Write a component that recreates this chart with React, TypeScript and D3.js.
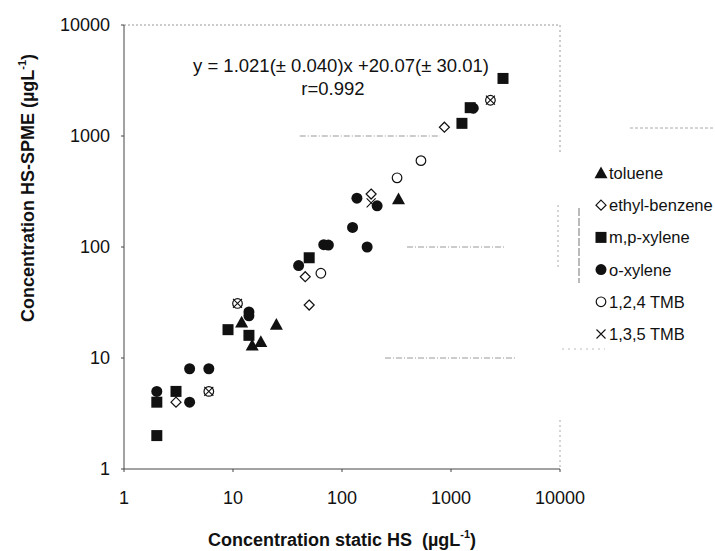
import React from "react";
import * as d3 from "d3";

const xTicks = [1, 10, 100, 1000, 10000];
const yTicks = [1, 10, 100, 1000, 10000];

const tolueneX = [12, 25, 15, 18, 330];
const tolueneY = [21, 20, 13, 14, 270];
const ethylX = [3, 46, 50, 185, 870];
const ethylY = [4, 54, 30, 300, 1200];
const mpX = [2, 2, 3, 9, 14, 50, 1260, 1500, 3000];
const mpY = [2, 4, 5, 18, 16, 80, 1300, 1800, 3300];
const oxX = [2, 4, 4, 6, 14, 14, 40, 68, 75, 125, 137, 170, 210, 1600];
const oxY = [5, 4, 8, 8, 26, 24, 68, 105, 104, 150, 275, 100, 235, 1780];
const tmb124X = [6, 11, 64, 320, 530, 2300];
const tmb124Y = [5, 31, 58, 420, 600, 2100];
const tmb135X = [6, 11, 185, 2300];
const tmb135Y = [5, 31, 250, 2100];

const legendLabels = ["toluene", "ethyl-benzene", "m,p-xylene", "o-xylene", "1,2,4 TMB", "1,3,5 TMB"];
const legendKinds = ["tri", "dia", "sq", "dot", "circ", "x"];

// partial gridline fragments (value ranges) as seen on the scanned chart
const gridY = [1000, 100, 10];
const gridFrom = [41, 395, 248];
const gridTo = [795, 3126, 3865];

const FONT = "'Liberation Sans', Arial, Helvetica, sans-serif";

function Marker({ kind, cx, cy }: { kind: string; cx: number; cy: number }) {
  const ink = "#111";
  if (kind === "tri") {
    const s = 6.5;
    return <path d={`M${cx},${cy - s} L${cx + s},${cy + s * 0.8} L${cx - s},${cy + s * 0.8} Z`} fill={ink} />;
  }
  if (kind === "dia") {
    const s = 5;
    return <path d={`M${cx},${cy - s} L${cx + s},${cy} L${cx},${cy + s} L${cx - s},${cy} Z`} fill="#fff" stroke={ink} strokeWidth={1.2} />;
  }
  if (kind === "sq") {
    return <rect x={cx - 5.5} y={cy - 5.5} width={11} height={11} fill={ink} />;
  }
  if (kind === "dot") {
    return <circle cx={cx} cy={cy} r={5.5} fill={ink} />;
  }
  if (kind === "circ") {
    return <circle cx={cx} cy={cy} r={4.8} fill="#fff" stroke={ink} strokeWidth={1.2} />;
  }
  const s = 4.5;
  return (
    <path d={`M${cx - s},${cy - s} L${cx + s},${cy + s} M${cx - s},${cy + s} L${cx + s},${cy - s}`} stroke={ink} strokeWidth={1.1} fill="none" />
  );
}

export default function App() {
  const W = 715;
  const H = 551;
  const x = d3.scaleLog().domain([1, 10000]).range([124, 560]);
  const y = d3.scaleLog().domain([1, 10000]).range([469, 25]);

  const series = [
    { kind: "dot", xs: oxX, ys: oxY },
    { kind: "circ", xs: tmb124X, ys: tmb124Y },
    { kind: "x", xs: tmb135X, ys: tmb135Y },
    { kind: "tri", xs: tolueneX, ys: tolueneY },
    { kind: "dia", xs: ethylX, ys: ethylY },
    { kind: "sq", xs: mpX, ys: mpY },
  ];

  const [x0, x1] = x.range();
  const [y0, y1] = y.range();

  return (
    <svg width={W} height={H} style={{ position: "absolute", left: 0, top: 0, background: "#fff" }} fontFamily={FONT}>
      <rect width={W} height={H} fill="#fff" />
      {/* frame (dotted top/right) */}
      <line x1={x0} x2={x1} y1={y1} y2={y1} stroke="#999" strokeWidth={1} strokeDasharray="2 2" />
      <line x1={x1} x2={x1} y1={y1} y2={155} stroke="#999" strokeWidth={1} strokeDasharray="2 3" />
      <line x1={x1} x2={x1} y1={420} y2={y0} stroke="#aaa" strokeWidth={1} strokeDasharray="2 3" />
      {/* gridline fragments */}
      {gridY.map((g, i) => (
        <line key={g} x1={x(gridFrom[i])} x2={x(gridTo[i])} y1={y(g)} y2={y(g)} stroke="#999" strokeWidth={1} strokeDasharray="6 2 1 2" />
      ))}
      {/* axes */}
      <line x1={x0} x2={x0} y1={y1} y2={y0} stroke="#444" strokeWidth={1} />
      <line x1={x0} x2={x1} y1={y0} y2={y0} stroke="#444" strokeWidth={1} />
      {xTicks.map((t) => (
        <g key={"x" + t}>
          <line x1={x(t)} x2={x(t)} y1={y0} y2={y0 + 3} stroke="#444" />
          <text x={x(t)} y={y0 + 35} textAnchor="middle" fontSize={18} fill="#111">
            {t}
          </text>
        </g>
      ))}
      {yTicks.map((t) => (
        <g key={"y" + t}>
          <line x1={x0 - 3} x2={x0} y1={y(t)} y2={y(t)} stroke="#444" />
          <text x={110} y={y(t) + 6} textAnchor="end" fontSize={18} fill="#111">
            {t}
          </text>
        </g>
      ))}
      {/* axis titles */}
      <text x={342} y={546} textAnchor="middle" fontSize={18} fontWeight="bold" fill="#111">
        Concentration static HS{"\u00a0\u00a0"}(µgL
        <tspan fontSize={11} dy={-8}>-1</tspan>
        <tspan dy={8}>)</tspan>
      </text>
      <text transform={`translate(34,188) rotate(-90)`} textAnchor="middle" fontSize={18} fontWeight="bold" fill="#111">
        Concentration HS-SPME (µgL
        <tspan fontSize={11} dy={-8}>-1</tspan>
        <tspan dy={8}>)</tspan>
      </text>
      {/* equation */}
      <text x={341} y={72} textAnchor="middle" fontSize={18.5} fill="#111">
        y = 1.021(± 0.040)x +20.07(± 30.01)
      </text>
      <text x={333} y={95} textAnchor="middle" fontSize={18.5} fill="#111">
        r=0.992
      </text>
      {/* data */}
      {series.map((s) =>
        s.xs.map((xv, i) => <Marker key={s.kind + i} kind={s.kind} cx={x(xv)} cy={y(s.ys[i])} />)
      )}
      {/* legend frame fragments */}
      <line x1={630} x2={715} y1={128} y2={128} stroke="#aaa" strokeDasharray="3 2" />
      <line x1={558} x2={558} y1={205} y2={268} stroke="#aaa" strokeDasharray="2 3" />
      <line x1={579} x2={579} y1={208} y2={283} stroke="#777" strokeDasharray="8 2" />
      <line x1={562} x2={605} y1={349} y2={349} stroke="#bbb" strokeDasharray="2 4" />
      {legendLabels.map((lab, i) => {
        const ly = 173 + i * 32.2;
        return (
          <g key={lab}>
            <Marker kind={legendKinds[i]} cx={601} cy={ly} />
            <text x={609} y={ly + 6} fontSize={16.5} fill="#111">
              {lab}
            </text>
          </g>
        );
      })}
    </svg>
  );
}
